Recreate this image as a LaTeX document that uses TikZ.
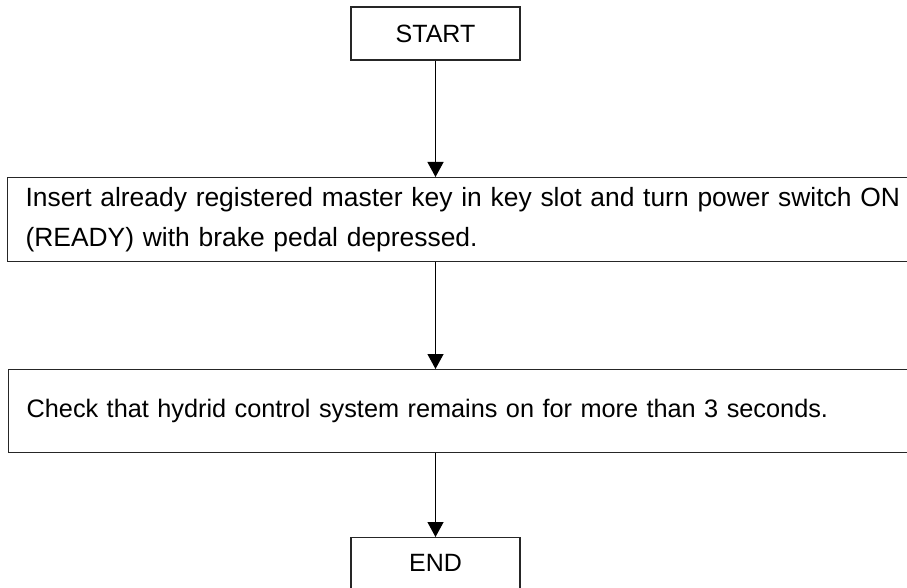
\documentclass[tikz,border=0pt]{standalone}
\usepackage{fontspec}
\setmainfont{Liberation Sans}
\usetikzlibrary{arrows.meta}

\tikzset{
  outline/.style={draw=black!85, line width=1.2pt},
  termbox/.style={outline, minimum width=169pt, minimum height=53pt, inner sep=0pt,
    font=\fontsize{25}{28}\selectfont},
  stepbox/.style={outline, anchor=north west, inner xsep=18pt, inner ysep=0pt,
    text width=900pt, align=left},
  flow/.style={line width=1.2pt, -{Triangle[width=16pt,length=15pt]}}
}

\begin{document}
\begin{tikzpicture}[x=1pt, y=-1pt]
  \useasboundingbox (0,0) rectangle (907,588);
  \clip (0,0) rectangle (907,588);

  % terminal boxes
  \node[termbox] (start) at (435.5,33.5) {START};
  \node[termbox, anchor=north] (end) at (435.5,537) {\raisebox{2pt}{END}};

  % process steps (they run past the right margin)
  \node[stepbox, minimum height=84pt,
        font=\fontsize{26.4}{40}\selectfont] (step1) at (7,177)
    {\raisebox{-1.5pt}{Insert already registered master key in key slot and turn power switch ON}\\
     \raisebox{-1.5pt}{(READY) with brake pedal depressed.}};
  \node[stepbox, minimum height=83pt,
        font=\fontsize{25.3}{30}\selectfont] (step2) at (8,369)
    {Check that hydrid control system remains on for more than 3 seconds.};

  % connectors
  \draw[flow] (start.south) -- (start.south |- step1.north);
  \draw[flow] (start.south |- step1.south) -- (start.south |- step2.north);
  \draw[flow] (start.south |- step2.south) -- (end.north);
\end{tikzpicture}
\end{document}
